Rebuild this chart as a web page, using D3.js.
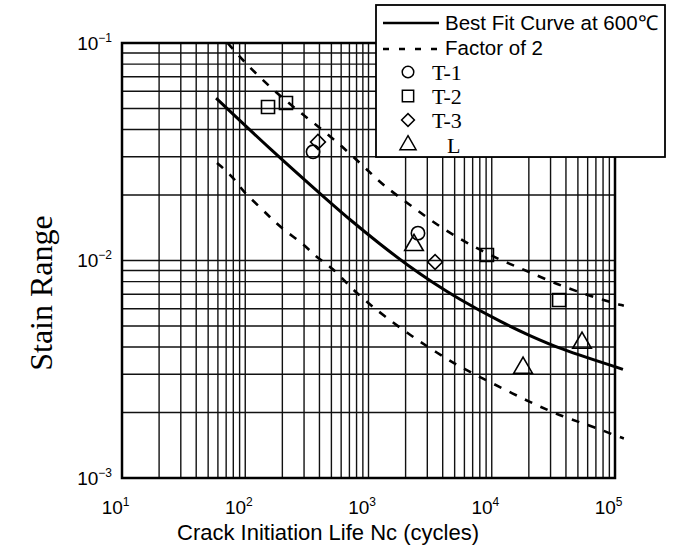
<!DOCTYPE html>
<html><head><meta charset="utf-8">
<script src="https://cdn.jsdelivr.net/npm/d3@7"></script>
<style>body{margin:0;background:#fff}svg{display:block}</style>
</head><body>
<script>
// ---- data ----
const xTickValues = [1e1, 1e2, 1e3, 1e4, 1e5];
const xTickExps = ["1", "2", "3", "4", "5"];
const yTickValues = [1e-1, 1e-2, 1e-3];
const yTickExps = ["\u22121", "\u22122", "\u22123"];

const bestFitN = [58, 159, 420, 748, 1240, 2090, 3335, 5520, 11670, 20400, 37800, 116000];
const bestFitStrain = [0.0558, 0.0327, 0.01995, 0.01503, 0.01191, 0.00951, 0.00793, 0.00664, 0.00526, 0.00452, 0.00391, 0.00316];

const upperN = [72, 99.5, 168, 294, 515, 973, 1312, 2173, 3600, 6300, 11670, 20400, 37800, 91000, 118000];
const upperStrain = [0.100, 0.081, 0.0608, 0.0467, 0.0366, 0.0262, 0.0222, 0.0180, 0.01456, 0.0120, 0.01004, 0.00885, 0.00755, 0.00644, 0.0062];

const lowerN = [59, 80, 96, 132, 168, 222, 305, 382, 515, 708, 973, 1312, 2173, 3600, 5520, 9680, 20400, 37800, 71400, 96400, 118000];
const lowerStrain = [0.0281, 0.0242, 0.0207, 0.0176, 0.0153, 0.01337, 0.01177, 0.01026, 0.00924, 0.00755, 0.00644, 0.00561, 0.00454, 0.00376, 0.00324, 0.00276, 0.00223, 0.00191, 0.00170, 0.00158, 0.00152];

const t1N = [355, 2520];             const t1Strain = [0.0316, 0.01336];
const t2N = [153, 214, 9140, 35200]; const t2Strain = [0.0508, 0.053, 0.0106, 0.00658];
const t3N = [389, 3470];             const t3Strain = [0.0351, 0.00984];
const lN = [2340, 17950, 54000];     const lStrain = [0.01177, 0.00321, 0.00418];

const legendLabels = ["Best Fit Curve at 600\u2103", "Factor of 2", "T-1", "T-2", "T-3", "L"];
const xTitle = "Crack Initiation Life Nc (cycles)";
const yTitle = "Stain Range";

// ---- layout ----
const W = 673, H = 551;
const L = 122, R = 615, T = 43, B = 478;
const SANS = "Liberation Sans, Arial, sans-serif";
const SERIF = "Liberation Serif, Times New Roman, serif";
const svg = d3.select("body").append("svg").attr("width", W).attr("height", H);
svg.append("rect").attr("width", W).attr("height", H).attr("fill", "#fff");

const x = d3.scaleLog().domain([1e1, 1e5]).range([L, R]);
const y = d3.scaleLog().domain([1e-3, 1e-1]).range([B, T]);

// grid lines (log paper)
const xGrid = [];
for (let d = 1; d < 5; d++) for (let k = 1; k <= 9; k++) xGrid.push(k * Math.pow(10, d));
const yGrid = [];
for (let d = -3; d < -1; d++) for (let k = 1; k <= 9; k++) yGrid.push(k * Math.pow(10, d));

const grid = svg.append("g");
grid.selectAll("line.v").data(xGrid).join("line")
  .attr("x1", d => x(d)).attr("x2", d => x(d)).attr("y1", T).attr("y2", B)
  .attr("stroke", "#111").attr("stroke-width", 1.4);
grid.selectAll("line.h").data(yGrid).join("line")
  .attr("x1", L).attr("x2", R).attr("y1", d => y(d)).attr("y2", d => y(d))
  .attr("stroke", "#111").attr("stroke-width", 1.4);

// frame
svg.append("rect").attr("x", L).attr("y", T).attr("width", R - L).attr("height", B - T)
  .attr("fill", "none").attr("stroke", "#000").attr("stroke-width", 2.5);

// axes with superscript labels
const xAxis = svg.append("g").attr("transform", `translate(0,${B})`)
  .call(d3.axisBottom(x).tickValues(xTickValues).tickSize(0).tickFormat(""));
xAxis.select(".domain").remove();
xAxis.selectAll(".tick").each(function (d, i) {
  const t = d3.select(this).append("text").attr("fill", "#000")
    .attr("font-family", SANS).attr("font-size", 19)
    .attr("text-anchor", "end").attr("x", 7).attr("y", 36);
  t.append("tspan").text("10");
  t.append("tspan").attr("font-size", 12).attr("dy", -8).text(xTickExps[i]);
});

const yAxis = svg.append("g").attr("transform", `translate(${L},0)`)
  .call(d3.axisLeft(y).tickValues(yTickValues).tickSize(0).tickFormat(""));
yAxis.select(".domain").remove();
yAxis.selectAll(".tick").each(function (d, i) {
  const t = d3.select(this).append("text").attr("fill", "#000")
    .attr("font-family", SANS).attr("font-size", 19)
    .attr("text-anchor", "end").attr("x", -10).attr("y", 6);
  t.append("tspan").text("10");
  t.append("tspan").attr("font-size", 12).attr("dy", -8).text(yTickExps[i]);
});

// titles
svg.append("text").attr("x", 328).attr("y", 540).attr("text-anchor", "middle")
  .attr("font-family", SANS).attr("font-size", 22).text(xTitle);
svg.append("text").attr("transform", "translate(52,293) rotate(-90)").attr("text-anchor", "middle")
  .attr("font-family", SERIF).attr("font-size", 32).text(yTitle);

// curves
const solidLine = d3.line().x(d => x(d[0])).y(d => y(d[1])).curve(d3.curveCatmullRom.alpha(0.5));
const dashLine = d3.line().x(d => x(d[0])).y(d => y(d[1])).curve(d3.curveBasis);
svg.append("path").datum(d3.zip(bestFitN, bestFitStrain)).attr("d", solidLine)
  .attr("fill", "none").attr("stroke", "#000").attr("stroke-width", 3);
svg.append("path").datum(d3.zip(upperN, upperStrain)).attr("d", dashLine)
  .attr("fill", "none").attr("stroke", "#000").attr("stroke-width", 2.6).attr("stroke-dasharray", "8,9");
svg.append("path").datum(d3.zip(lowerN, lowerStrain)).attr("d", dashLine)
  .attr("fill", "none").attr("stroke", "#000").attr("stroke-width", 2.6).attr("stroke-dasharray", "8,9");

// markers
const symType = {circle: d3.symbolCircle, square: d3.symbolSquare, diamond: d3.symbolSquare, triangle: d3.symbolTriangle};
const symSize = {circle: 140, square: 170, diamond: 110, triangle: 150};
function markerTransform(shape, px, py) {
  return `translate(${px},${py})` + (shape === "diamond" ? " rotate(45)" : "");
}
function drawPts(N, S, shape) {
  svg.append("g").selectAll("path").data(d3.zip(N, S)).join("path")
    .attr("transform", d => markerTransform(shape, x(d[0]), y(d[1])))
    .attr("d", d3.symbol().type(symType[shape]).size(symSize[shape]))
    .attr("fill", "none").attr("stroke", "#000").attr("stroke-width", 1.6);
}
drawPts(t1N, t1Strain, "circle");
drawPts(t2N, t2Strain, "square");
drawPts(t3N, t3Strain, "diamond");
drawPts(lN, lStrain, "triangle");

// legend
const lg = svg.append("g");
lg.append("rect").attr("x", 376).attr("y", 5).attr("width", 289).attr("height", 152)
  .attr("fill", "#fff").attr("stroke", "#000").attr("stroke-width", 1.8);
lg.append("line").attr("x1", 383).attr("x2", 439).attr("y1", 23).attr("y2", 23)
  .attr("stroke", "#000").attr("stroke-width", 2.5);
lg.append("line").attr("x1", 383).attr("x2", 443).attr("y1", 49).attr("y2", 49)
  .attr("stroke", "#000").attr("stroke-width", 2.5).attr("stroke-dasharray", "6,10");
lg.append("text").attr("x", 445).attr("y", 30).attr("font-family", SANS)
  .attr("font-size", 20.5).text(legendLabels[0]);
lg.append("text").attr("x", 445).attr("y", 55).attr("font-family", SANS)
  .attr("font-size", 20.5).text(legendLabels[1]);
const legSyms = [["circle", 72, 432], ["square", 96, 432], ["diamond", 120, 432], ["triangle", 145, 447]];
legSyms.forEach((s, i) => {
  lg.append("path").attr("transform", markerTransform(s[0], 408, s[1]))
    .attr("d", d3.symbol().type(symType[s[0]]).size(symSize[s[0]] * 0.75))
    .attr("fill", "none").attr("stroke", "#000").attr("stroke-width", 1.5);
  lg.append("text").attr("x", s[2]).attr("y", s[1] + 8)
    .attr("font-family", SERIF).attr("font-size", 22).text(legendLabels[i + 2]);
});
</script>
</body></html>
